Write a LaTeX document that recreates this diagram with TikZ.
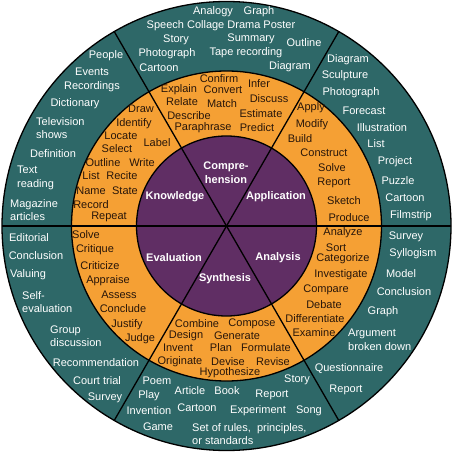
\documentclass[tikz,border=0pt]{standalone}
\usepackage{fontspec}
\setmainfont{Liberation Sans}
\definecolor{wheelTeal}{RGB}{46,104,104}
\definecolor{wheelOrange}{RGB}{245,160,52}
\definecolor{wheelPurple}{RGB}{96,46,100}
\definecolor{wordDark}{RGB}{40,22,10}

\begin{document}
\begin{tikzpicture}
  [x=1bp,y=-1bp,
   outerN/.style={text=white,inner sep=0pt,align=left,font=\fontsize{11bp}{13.5bp}\selectfont},
   midN/.style={text=wordDark,inner sep=0pt,font=\fontsize{11bp}{13.5bp}\selectfont},
   hubN/.style={text=white,inner sep=0pt,align=center,font=\fontsize{11bp}{14bp}\selectfont\bfseries},
   ring/.style={draw=black,line width=1.3bp}]

  \useasboundingbox (0,0) rectangle (453,453);
  \coordinate (c) at (226.5,226);

  % wheel
  \filldraw[fill=wheelTeal,ring] (c) circle[radius=224.5bp];
  \filldraw[fill=wheelOrange,ring] (c) circle[radius=155bp];
  \filldraw[fill=wheelPurple,ring] (c) circle[radius=90bp];
  \foreach \a in {0,60,120}
    \draw[ring] (c) ++(\a:224.5bp) -- ++(\a+180:449bp);

  % hub
  \node[hubN] (hk) at (175,197) {Knowledge};
  \node[hubN] (hc) at (226,173) {Compre-\\hension};
  \node[hubN] (hp) at (276,197) {Application};
  \node[hubN] (hv) at (174,258) {Evaluation};
  \node[hubN] (hs) at (225,279) {Synthesis};
  \node[hubN] (ha) at (278,258) {Analysis};

  % knowledge
  \node[midN] (km1) at (141,109) {Draw};
  \node[midN] (km2) at (134,124) {Identify};
  \node[midN] (km3) at (121,136) {Locate};
  \node[midN] (km4) at (157,143) {Label};
  \node[midN] (km5) at (117,149) {Select};
  \node[midN] (km6) at (103,163) {Outline};
  \node[midN] (km7) at (142,163) {Write};
  \node[midN] (km8) at (91,176) {List};
  \node[midN] (km9) at (122,176) {Recite};
  \node[midN] (km10) at (91,191) {Name};
  \node[midN] (km11) at (125,191) {State};
  \node[midN] (km12) at (91,205) {Record};
  \node[midN] (km13) at (109,217) {Repeat};
  \node[outerN] (ko1) at (106,56) {People};
  \node[outerN] (ko2) at (92,72) {Events};
  \node[outerN] (ko3) at (92,87) {Recordings};
  \node[outerN] (ko4) at (75,104) {Dictionary};
  \node[outerN,anchor=west] (ko5) at (36,128) {Television\\shows};
  \node[outerN] (ko6) at (53,154) {Definition};
  \node[outerN,anchor=west] (ko7) at (17,178) {Text\\reading};
  \node[outerN,anchor=west] (ko8) at (10,210) {Magazine\\articles};

  % comprehension
  \node[midN] (cm1) at (219,79) {Confirm};
  \node[midN] (cm2) at (179,90) {Explain};
  \node[midN] (cm3) at (223,90) {Convert};
  \node[midN] (cm4) at (259,84) {Infer};
  \node[midN] (cm5) at (182,102) {Relate};
  \node[midN] (cm6) at (222,104) {Match};
  \node[midN] (cm7) at (269,99) {Discuss};
  \node[midN] (cm8) at (189,116) {Describe};
  \node[midN] (cm9) at (261,114) {Estimate};
  \node[midN] (cm10) at (203,128) {Paraphrase};
  \node[midN] (cm11) at (257,128) {Predict};
  \node[outerN] (co1) at (213,12) {Analogy};
  \node[outerN] (co2) at (259,12) {Graph};
  \node[outerN] (co3) at (221,26) {Speech Collage Drama Poster};
  \node[outerN] (co4) at (176,40) {Story};
  \node[outerN] (co5) at (251,39) {Summary};
  \node[outerN] (co6) at (304,43) {Outline};
  \node[outerN] (co7) at (167,54) {Photograph};
  \node[outerN] (co8) at (246,53) {Tape recording};
  \node[outerN] (co9) at (159,68) {Cartoon};
  \node[outerN] (co10) at (290,67) {Diagram};

  % application
  \node[midN] (pm1) at (311,108) {Apply};
  \node[midN] (pm2) at (312,125) {Modify};
  \node[midN] (pm3) at (300,139) {Build};
  \node[midN] (pm4) at (324,153) {Construct};
  \node[midN] (pm5) at (332,168) {Solve};
  \node[midN] (pm6) at (334,183) {Report};
  \node[midN] (pm7) at (344,201) {Sketch};
  \node[midN] (pm8) at (349,218) {Produce};
  \node[outerN] (po1) at (348,60) {Diagram};
  \node[outerN] (po2) at (345,76) {Sculpture};
  \node[outerN] (po3) at (351,93) {Photograph};
  \node[outerN] (po4) at (364,111) {Forecast};
  \node[outerN] (po5) at (382,128) {Illustration};
  \node[outerN] (po6) at (376,144) {List};
  \node[outerN] (po7) at (395,162) {Project};
  \node[outerN] (po8) at (398,181) {Puzzle};
  \node[outerN] (po9) at (405,198) {Cartoon};
  \node[outerN] (po10) at (411,216) {Filmstrip};

  % analysis
  \node[midN] (am1) at (343,233) {Analyze};
  \node[midN] (am2) at (336,248) {Sort};
  \node[midN] (am3) at (343,259) {Categorize};
  \node[midN] (am4) at (341,275) {Investigate};
  \node[midN] (am5) at (326,290) {Compare};
  \node[midN] (am6) at (324,305) {Debate};
  \node[midN] (am7) at (315,319) {Differentiate};
  \node[midN] (am8) at (314,333) {Examine};
  \node[outerN] (ao1) at (406,237) {Survey};
  \node[outerN] (ao2) at (413,254) {Syllogism};
  \node[outerN] (ao3) at (401,274) {Model};
  \node[outerN] (ao4) at (404,292) {Conclusion};
  \node[outerN] (ao5) at (383,312) {Graph};
  \node[outerN,anchor=west] (ao6) at (348,340) {Argument\\broken down};
  \node[outerN] (ao7) at (349,369) {Questionnaire};
  \node[outerN] (ao8) at (346,390) {Report};

  % synthesis
  \node[midN] (sm1) at (197,324) {Combine};
  \node[midN] (sm2) at (252,324) {Compose};
  \node[midN] (sm3) at (186,336) {Design};
  \node[midN] (sm4) at (237,336) {Generate};
  \node[midN] (sm5) at (178,348) {Invent};
  \node[midN] (sm6) at (221,348) {Plan};
  \node[midN] (sm7) at (266,348) {Formulate};
  \node[midN] (sm8) at (180,362) {Originate};
  \node[midN] (sm9) at (228,362) {Devise};
  \node[midN] (sm10) at (273,362) {Revise};
  \node[midN] (sm11) at (230,373) {Hypothesize};
  \node[outerN] (so1) at (157,381) {Poem};
  \node[outerN] (so2) at (297,380) {Story};
  \node[outerN] (so3) at (190,391) {Article};
  \node[outerN] (so4) at (227,391) {Book};
  \node[outerN] (so5) at (149,396) {Play};
  \node[outerN] (so6) at (272,395) {Report};
  \node[outerN] (so7) at (149,411) {Invention};
  \node[outerN] (so8) at (197,408) {Cartoon};
  \node[outerN] (so9) at (258,411) {Experiment};
  \node[outerN] (so10) at (309,411) {Song};
  \node[outerN] (so11) at (158,427) {Game};
  \node[outerN,anchor=west] (so12) at (192,434) {Set of rules,\ \ principles,\\or standards};

  % evaluation
  \node[midN] (vm1) at (86,235) {Solve};
  \node[midN] (vm2) at (95,250) {Critique};
  \node[midN] (vm3) at (100,266) {Criticize};
  \node[midN] (vm4) at (108,281) {Appraise};
  \node[midN] (vm5) at (119,295) {Assess};
  \node[midN] (vm6) at (123,309) {Conclude};
  \node[midN] (vm7) at (127,325) {Justify};
  \node[midN] (vm8) at (140,339) {Judge};
  \node[outerN] (vo1) at (29,238) {Editorial};
  \node[outerN] (vo2) at (36,256) {Conclusion};
  \node[outerN] (vo3) at (28,275) {Valuing};
  \node[outerN,anchor=west] (vo4) at (22,302) {Self-\\evaluation};
  \node[outerN,anchor=west] (vo5) at (50,336) {Group\\discussion};
  \node[outerN] (vo6) at (96,363) {Recommendation};
  \node[outerN] (vo7) at (97,381) {Court trial};
  \node[outerN] (vo8) at (105,398) {Survey};
\end{tikzpicture}
\end{document}
